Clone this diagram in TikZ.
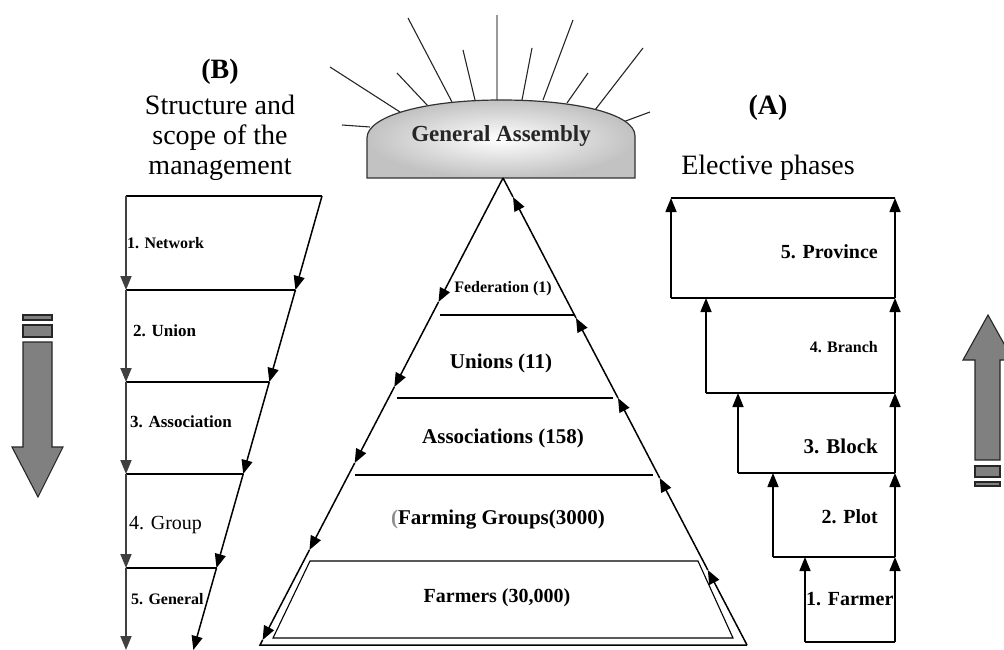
\documentclass[tikz,border=0pt]{standalone}
\usepackage{fontspec}
\setmainfont{Liberation Serif}
\usetikzlibrary{arrows.meta}
\newcommand{\myfs}[1]{\fontsize{#1}{#1}\selectfont}
\begin{document}
\begin{tikzpicture}[x=1pt,y=-1pt,
  ln/.style={line width=1.5pt,black},
  tipd/.style={ln,arrows={-Triangle[length=14pt,width=11pt]}},
  ray/.style={line width=1.1pt,black!85},
  bigarrow/.style={fill=black!50,draw=black!85,line width=1.1pt},
  title/.style={inner sep=0pt,align=center,font=\myfs{28}},
  lab/.style={inner sep=0pt,font=\bfseries\myfs{#1}},
  labr/.style={inner sep=0pt,font=\myfs{#1}}]
\useasboundingbox (0,0) rectangle (1004,650);

% ---------- titles ----------
\node[title,font=\bfseries\myfs{28}] (tB) at (220,72) {(B)};
\node[title] (tB1) at (220,105) {Structure and};
\node[title] (tB2) at (220,138) {scope of the};
\node[title] (tB3) at (220,170) {management};
\node[title,font=\bfseries\myfs{28}] (tA) at (768,108) {(A)};
\node[title] (tA1) at (768,168) {Elective phases};

% ---------- General Assembly dome ----------
\foreach \a/\b/\c/\d in {408/18/452/102, 463/50/475/100, 397/73/428/106, 330/67/400/112, 342/125/370/127,
                         532/48/522/100, 573/20/543/100, 588/73/567/103, 643/48/595/110, 650/112/623/122}
  \draw[ray] (\a,\b) -- (\c,\d);
\draw[ray,black!40,line width=1.4pt] (497,15) -- (497,100);
\path[shading=radial,inner color=white,outer color=gray!48,draw=black!80,line width=1.2pt]
  (367,178) -- (367,138) .. controls (367,116) and (425,100) .. (501,100)
  .. controls (577,100) and (635,114) .. (635,136) -- (635,178) -- cycle;
\node[lab=23,text=black!85] (ga) at (501,136) {General Assembly};

% ---------- pyramid ----------
\coordinate (ap) at (503,178);
\coordinate (bl) at (260,645);
\coordinate (br) at (747,645);
\coordinate (l1) at (438.5,302);
\coordinate (l2) at (394.3,387);
\coordinate (l3) at (354.7,463);
\coordinate (l4) at (309.4,550);
\coordinate (l5) at (262.6,640);
\coordinate (r1) at (707.8,570);
\coordinate (r2) at (659.7,478);
\coordinate (r3) at (618,398);
\coordinate (r4) at (576,318);
\coordinate (r5) at (513,197);
\draw[tipd] (ap) -- (l1);
\draw[tipd] (l1) -- (l2);
\draw[tipd] (l2) -- (l3);
\draw[tipd] (l3) -- (l4);
\draw[tipd] (l4) -- (l5);
\draw[ln] (l5) -- (bl) -- (br);
\draw[tipd] (br) -- (r1);
\draw[tipd] (r1) -- (r2);
\draw[tipd] (r2) -- (r3);
\draw[tipd] (r3) -- (r4);
\draw[tipd] (r4) -- (r5);
\draw[ln] (r5) -- (ap);
\draw[ln] (440,315) -- (575,315);
\draw[ln] (397,398) -- (613,398);
\draw[ln] (355,475) -- (653,475);
\draw[ln,line width=1.1pt] (310,561) -- (698,561) -- (733,638) -- (273,638) -- cycle;

\node[lab=16] (fed) at (503,289) {Federation (1)};
\node[lab=21] (uni) at (501,363) {Unions (11)};
\node[lab=21] (ass) at (503,438) {Associations (158)};
\node[lab=21] (fgr) at (498,520) {\textcolor{black!45}{(}Farming Groups(3000)};
\node[lab=20] (frm) at (497,598) {Farmers (30,000)};

% ---------- (B) structure and scope ----------
\coordinate (bv0) at (126,196);
\coordinate (bv1) at (126,290);
\coordinate (bv2) at (126,382);
\coordinate (bv3) at (126,474);
\coordinate (bv4) at (126,568);
\coordinate (bv5) at (126,650);
\coordinate (bs0) at (322,196);
\coordinate (bs1) at (295.4,290);
\coordinate (bs2) at (269.3,382);
\coordinate (bs3) at (243.2,474);
\coordinate (bs4) at (216.5,568);
\coordinate (bs5) at (193.3,650);
\draw[ln] (bv0) -- (bs0);
\draw[ln] (bv1) -- (bs1);
\draw[ln] (bv2) -- (bs2);
\draw[ln] (bv3) -- (bs3);
\draw[ln] (bv4) -- (bs4);
\foreach \i/\j in {0/1,1/2,2/3,3/4,4/5}{
  \draw[tipd,black!75,line width=1.8pt] (bv\i) -- (bv\j);
  \draw[tipd] (bs\i) -- (bs\j);
}
\node[lab=16,anchor=west] (b1) at (127,243) {1. Network};
\node[lab=17,anchor=west] (b2) at (133,331) {2. Union};
\node[lab=17,anchor=west] (b3) at (130,422) {3. Association};
\node[labr=20,anchor=west] (b4) at (129,525) {4. Group};
\node[lab=16,anchor=west] (b5) at (131,599) {5. General};

% ---------- (A) elective phases ----------
\coordinate (e0) at (895,642);
\coordinate (e1) at (895,557);
\coordinate (e2) at (895,473);
\coordinate (e3) at (895,393);
\coordinate (e4) at (895,298);
\coordinate (e5) at (895,198);
\coordinate (f1) at (805,557);
\coordinate (g1) at (805,642);
\coordinate (f2) at (773,473);
\coordinate (g2) at (773,557);
\coordinate (f3) at (738,393);
\coordinate (g3) at (738,473);
\coordinate (f4) at (706,298);
\coordinate (g4) at (706,393);
\coordinate (f5) at (671,198);
\coordinate (g5) at (671,298);
\foreach \i/\j in {0/1,1/2,2/3,3/4,4/5}
  \draw[tipd] (e\i) -- (e\j);
\foreach \k in {1,...,5}{
  \draw[tipd] (g\k) -- (f\k);
  \draw[ln] (g\k) -- (e\the\numexpr\k-1\relax);
}
\draw[ln] (f5) -- (e5);
\node[lab=20,anchor=east] (a5) at (878,252) {5. Province};
\node[lab=16,anchor=east] (a4) at (878,347) {4. Branch};
\node[lab=21,anchor=east] (a3) at (878,446) {3. Block};
\node[lab=20,anchor=east] (a2) at (878,517) {2. Plot};
\node[lab=20,anchor=west] (a1) at (806,599) {1. Farmer};

% ---------- big arrows ----------
\begin{scope}
\clip (0,0) rectangle (1004,650);
\draw[bigarrow] (23,315) rectangle (52,320);
\draw[bigarrow] (23,325) rectangle (52,337);
\draw[bigarrow] (23,342) -- (52,342) -- (52,447) -- (63,447) -- (38,497) -- (12,447) -- (23,447) -- cycle;
\draw[bigarrow] (975,460) -- (975,360) -- (963,360) -- (988,315) -- (1013,360) -- (1000,360) -- (1000,460) -- cycle;
\draw[bigarrow] (975,466) rectangle (1000,477);
\draw[bigarrow] (975,482) rectangle (1000,486);
\end{scope}
\end{tikzpicture}
\end{document}
